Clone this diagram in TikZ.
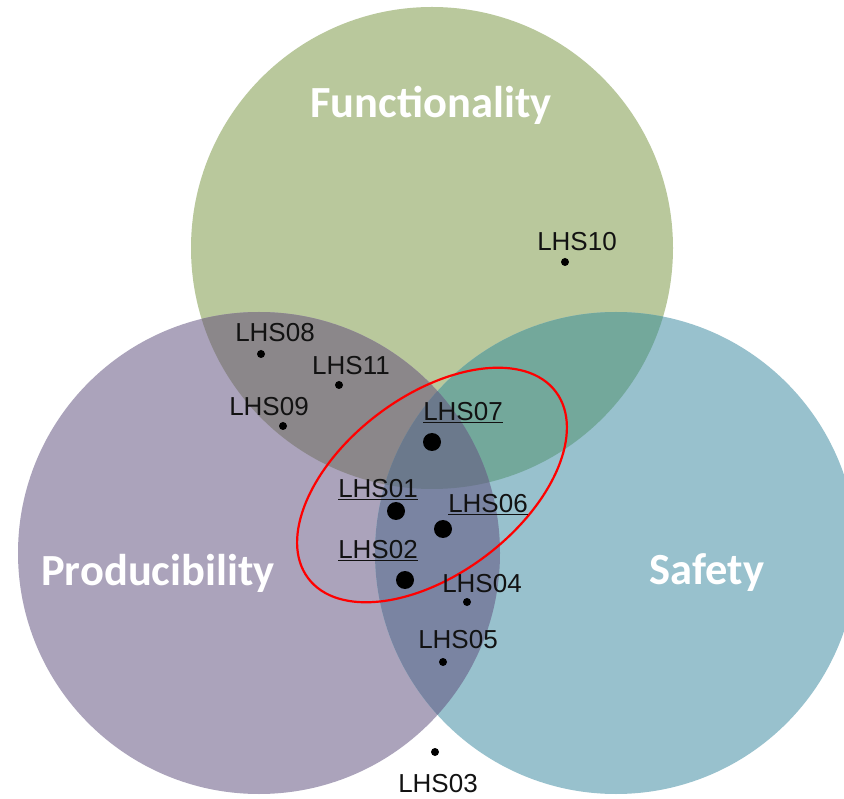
\documentclass[tikz,border=0pt]{standalone}
\usepackage{fontspec}
\setmainfont{Liberation Sans}
\newfontfamily\titlefont{Carlito}
\begin{document}
\begin{tikzpicture}[x=1pt,y=-1pt,
  lbl/.style={font=\fontsize{26}{26}\selectfont, text=black!93, inner sep=0pt},
  ttl/.style={font=\titlefont\bfseries\fontsize{44.5}{44.5}\selectfont, text=white, inner sep=0pt},
  bigdot/.style={circle, fill=black, inner sep=0pt, minimum size=18pt},
  smalldot/.style={circle, fill=black, inner sep=0pt, minimum size=8pt}]
\definecolor{fcol}{HTML}{B9C89C}
\definecolor{pcol}{HTML}{ABA3BB}
\definecolor{scol}{HTML}{98C1CD}
\definecolor{fpcol}{HTML}{8B878A}
\definecolor{fscol}{HTML}{73A89B}
\definecolor{pscol}{HTML}{7A84A2}
\definecolor{fpscol}{HTML}{6B798C}
\useasboundingbox (0,0) rectangle (844,799);
\clip (0,0) rectangle (844,799);
% the three sets
\def\circF{(432,248) circle[radius=241]}
\def\circP{(259,553) circle[radius=241]}
\def\circS{(616,553) circle[radius=241]}
\fill[fcol] \circF;
\fill[pcol] \circP;
\fill[scol] \circS;
% pairwise overlaps
\begin{scope}\clip \circP; \fill[fpcol] \circF; \end{scope}
\begin{scope}\clip \circF; \fill[fscol] \circS; \end{scope}
\begin{scope}\clip \circP; \fill[pscol] \circS; \end{scope}
% common core
\begin{scope}\clip \circF; \clip \circP; \fill[fpscol] \circS; \end{scope}
% set titles
\node[ttl] (tF) at (431,105) {Functionality};
\node[ttl] (tP) at (158,573) {Producibility};
\node[ttl] (tS) at (707,573) {Safety};
% highlighted cluster
\draw[red, line width=2.2pt] (432,485) ellipse[x radius=155, y radius=89, rotate=37];
% hazards
\node[smalldot] (d10) at (565,262) {};
\node[smalldot] (d08) at (261,354) {};
\node[smalldot] (d11) at (339,385) {};
\node[smalldot] (d09) at (283,426) {};
\node[smalldot] (d04) at (467,602) {};
\node[smalldot] (d05) at (443,662) {};
\node[smalldot] (d03) at (435,752) {};
\node[bigdot] (d07) at (432,442) {};
\node[bigdot] (d01) at (396,511) {};
\node[bigdot] (d06) at (443,529) {};
\node[bigdot] (d02) at (405,580) {};
\node[lbl] (l10) at (577,242) {LHS10};
\node[lbl] (l08) at (275,333) {LHS08};
\node[lbl] (l11) at (351,366) {LHS11};
\node[lbl] (l09) at (269,407) {LHS09};
\node[lbl] (l04) at (482,584) {LHS04};
\node[lbl] (l05) at (458,640) {LHS05};
\node[lbl] (l03) at (438,784) {LHS03};
\node[lbl] (l07) at (463,413) {\underline{LHS07}};
\node[lbl] (l01) at (378,490) {\underline{LHS01}};
\node[lbl] (l06) at (488,505) {\underline{LHS06}};
\node[lbl] (l02) at (378,551) {\underline{LHS02}};
\end{tikzpicture}
\end{document}
